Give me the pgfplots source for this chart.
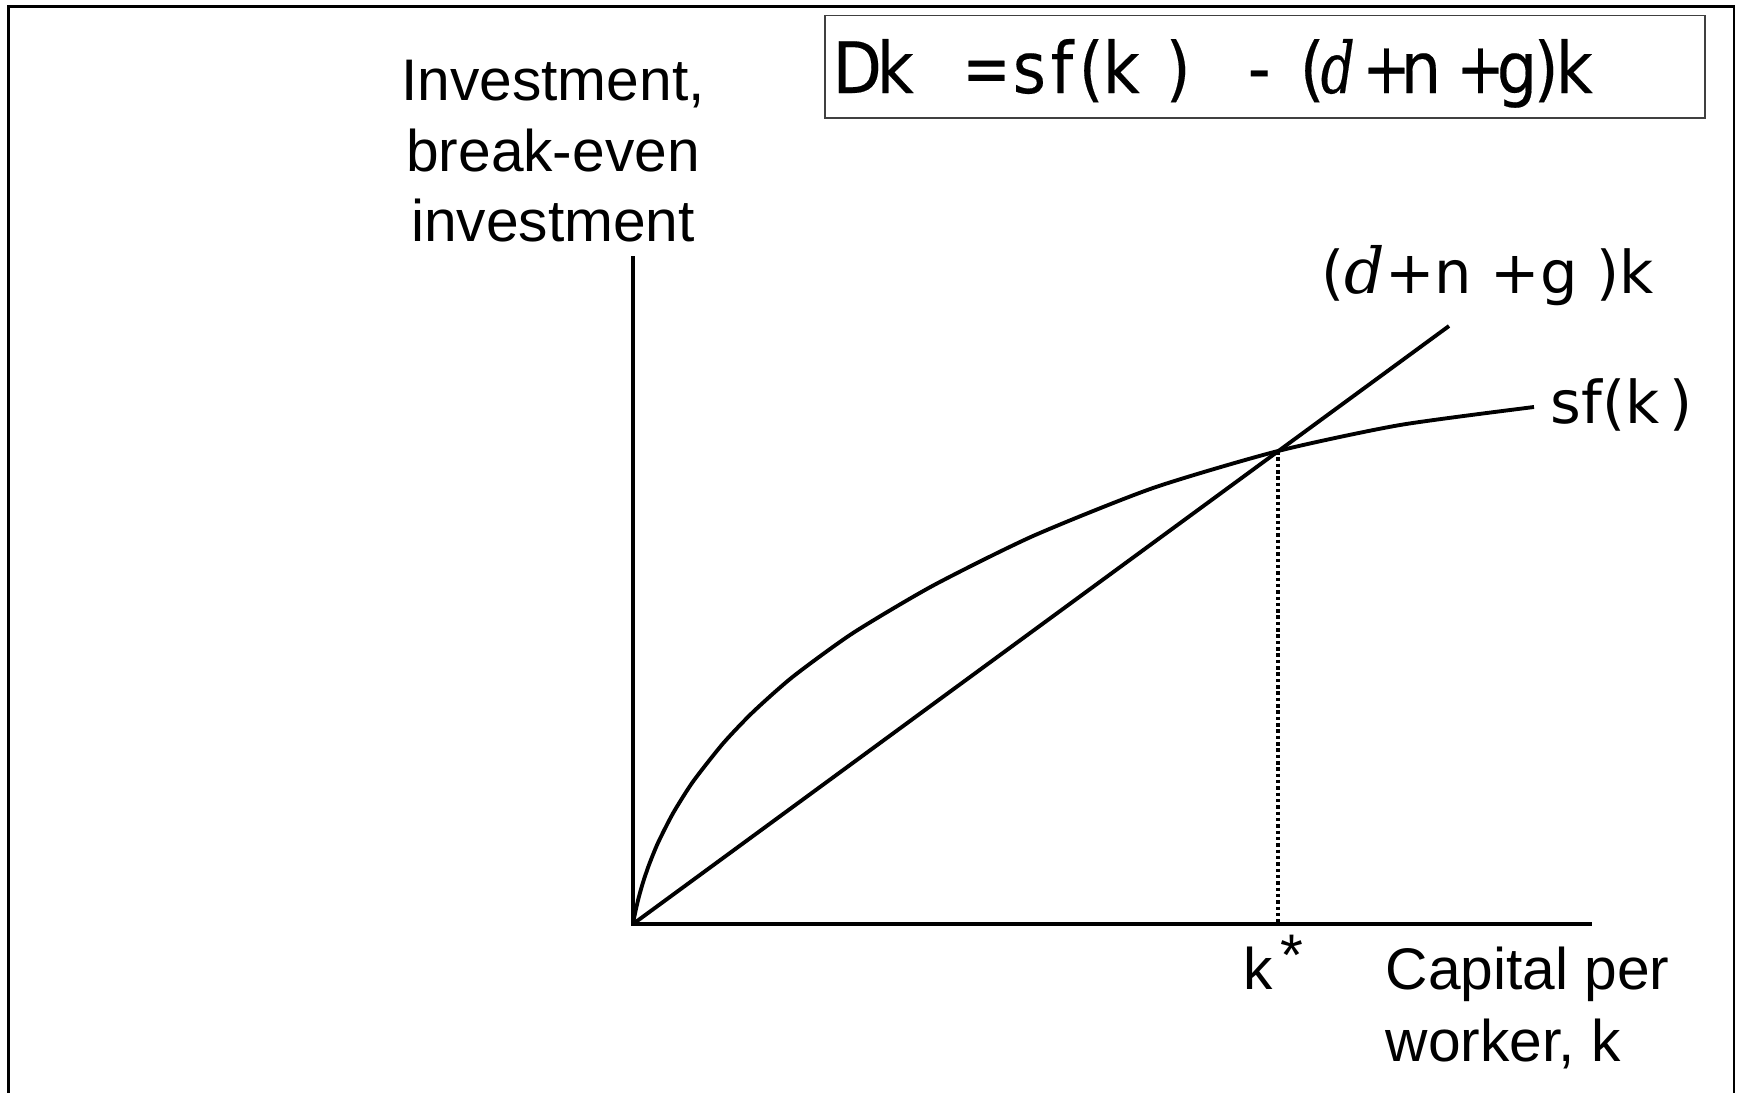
\documentclass[border=0pt]{standalone}
\usepackage{pgfplots}
\pgfplotsset{compat=1.18}
\usepackage{graphicx}
\usepackage{fontspec}
\setmainfont{Liberation Sans}
\newfontfamily\dv{DejaVu Sans}
\newfontfamily\dvb{DejaVu Sans}[FakeBold=0.25]
\newfontfamily\dvs{DejaVu Serif}
\newfontfamily\dvsb{DejaVu Serif}[FakeBold=0.4]
\newcommand{\lab}{\fontsize{16.7pt}{20pt}\selectfont}
\newcommand{\dvl}{\dv\fontsize{16.8pt}{20pt}\selectfont}
\newcommand{\eqf}{\dvb\fontsize{20.2pt}{24pt}\selectfont}
\newcommand{\eqp}[1]{\scalebox{0.9}[1]{\eqf #1}}
\newcommand{\eqq}[1]{\scalebox{0.8}[1]{\eqf #1}}
\begin{document}
\begin{tikzpicture}[x=0.1mm,y=-0.1mm]
\useasboundingbox (0,0) rectangle (1737,1092);
\begin{scope}
\clip (0,0) rectangle (1737,1092);
\draw[line width=0.65pt] (8.5,6.5) rectangle (1734,1130);
\end{scope}
\draw[line width=0.45pt, draw=black!75] (825,15.5) rectangle (1705,118);
% equation pieces
\begin{scope}[every node/.style={inner sep=0pt, anchor=base west}]
\node at (832,93) {\eqp{D}};
\node at (876,93) {\eqp{k}};
\node at (962,93) {\eqq{=}};
\node at (1012,93) {\eqp{s}};
\node at (1050,93) {\eqp{f}};
\node at (1078,93) {\eqp{(}};
\node at (1102,93) {\eqp{k}};
\node at (1165,93) {\eqp{)}};
\node at (1247,93) {\eqp{-}};
\node at (1299,93) {\eqp{(}};
\node at (1320,93) {\scalebox{0.75}[1]{\dvsb\itshape\fontsize{20.2pt}{24pt}\selectfont d}};
\node at (1362,93) {\eqq{+}};
\node at (1400,93) {\eqp{n}};
\node at (1456,93) {\eqq{+}};
\node at (1496,93) {\eqp{g}};
\node at (1533,93) {\eqp{)}};
\node at (1555,93) {\eqp{k}};
% labels
\node[anchor=base] at (553,100) {\lab Investment,};
\node[anchor=base] at (553,171) {\lab break-even};
\node[anchor=base] at (553,241) {\lab investment};
\node at (1385,989) {\lab Capital per};
\node at (1385,1061) {\lab worker, k};
\node at (1243,989) {\lab k};
\node at (1280,975) {\lab *};
\node at (1550,423) {\dvl sf(k\hspace{1mm})};
\node at (1321,293) {\dvl ({\dvs\itshape\fontsize{18pt}{20pt}\selectfont d}+n +g )k};
\end{scope}
\begin{axis}[at={(63.3mm,-92.4mm)}, anchor=south west, x=0.1mm, y=0.1mm,
  xmin=0, xmax=959, ymin=0, ymax=668, enlargelimits=false,
  hide axis, clip=false]
\addplot[line width=1.2pt, line join=miter] coordinates {(0,668) (0,0) (959,0)};
\addplot[line width=1.1pt, smooth, tension=0.4] coordinates {
(0,0) (1,5.5) (3,15.2) (6,27.6) (10,41.6) (16,59.2) (25,81.2) (40,110.7) (60,142.4) (90,180.5) (120,212) (160,247.4) (220,291) (300,338.4) (400,388) (520,436) (645,473) (767,499) (901,517)};
\addplot[line width=1.1pt] coordinates {(0,0) (816,598)};
\addplot[line width=1pt, dash pattern=on 1pt off 0.8pt] coordinates {(645,473) (645,0)};
\end{axis}
\end{tikzpicture}
\end{document}
